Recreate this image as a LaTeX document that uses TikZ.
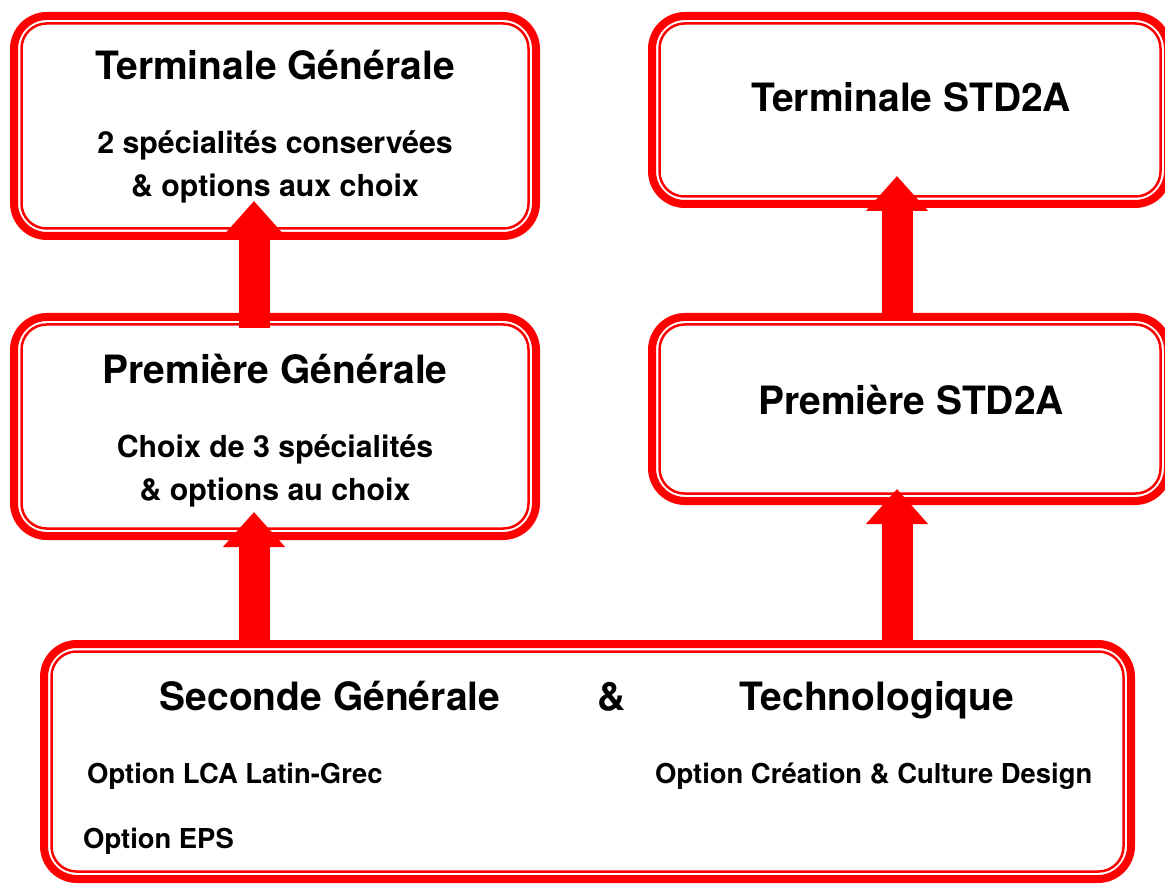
\documentclass[tikz,border=0pt]{standalone}
\usepackage{fontspec}
\setmainfont{TeX Gyre Heros}
\usetikzlibrary{arrows.meta,calc}
\definecolor{bred}{RGB}{255,0,0}
\begin{document}
\begin{tikzpicture}[x=1pt,y=-1pt,
  box/.style={draw=bred, line width=8pt, rounded corners=33pt, inner sep=0pt},
  innerline/.style={draw=bred, line width=2.5pt, rounded corners=25pt},
  up/.style={draw=bred, line width=31pt, -{Triangle[width=60pt,length=35pt]}},
  head/.style={anchor=base, inner sep=0pt, font=\bfseries\fontsize{39}{42}\selectfont},
  sub/.style={anchor=base, inner sep=0pt, font=\bfseries\fontsize{30.3}{32}\selectfont},
  opt/.style={anchor=base west, inner sep=0pt, font=\bfseries\fontsize{27.4}{29}\selectfont}]
\useasboundingbox (0,0) rectangle (1165,885);

% boxes
\node[box, minimum width=522pt, minimum height=220pt] (tg) at (275,126) {};
\node[box, minimum width=516pt, minimum height=188pt] (ts) at (910,110) {};
\node[box, minimum width=522pt, minimum height=219pt] (pg) at (275,426.5) {};
\node[box, minimum width=516pt, minimum height=184pt] (ps) at (910,409) {};
\node[box, minimum width=1087pt, minimum height=235pt] (sec) at (587.5,761.5) {};
\foreach \n in {tg,ts,pg,ps,sec}
  \draw[innerline] ([xshift=11.5pt,yshift=-11.5pt]\n.north west) rectangle ([xshift=-11.5pt,yshift=11.5pt]\n.south east);

% texts
\node[head] (tgt) at (275,80) {Terminale Générale};
\node[sub] (tg1) at (275,154) {2 spécialités conservées};
\node[sub] (tg2) at (275,197) {\& options aux choix};
\node[head] (tst) at (911,112) {Terminale STD2A};
\node[head] (pgt) at (275,383) {Première Générale};
\node[sub] (pg1) at (275,457) {Choix de 3 spécialités};
\node[sub] (pg2) at (275,500) {\& options au choix};
\node[head] (pst) at (911,414) {Première STD2A};
\node[head] (sct) at (330,710) {Seconde Générale};
\node[head] (amp) at (612,710) {\&};
\node[head] (tec) at (877,710) {Technologique};
\node[opt] (o1) at (87,783) {Option LCA Latin-Grec};
\node[opt] (o2) at (83,848) {Option EPS};
\node[opt] (o3) at (655,783) {Option Création \& Culture Design};

% arrows
\coordinate (a1) at ($(tg.south)+(-21pt,39pt)$);
\coordinate (a2) at ($(ts.south)+(-13pt,32pt)$);
\coordinate (a3) at ($(pg.south)+(-21pt,28pt)$);
\coordinate (a4) at ($(ps.south)+(-13pt,16pt)$);
\draw[up] ($(pg.north -| a1)+(0,-15pt)$) -- (a1);
\draw[up] (ps.north -| a2) -- (a2);
\draw[up] ($(sec.north -| a3)+(0,-3pt)$) -- (a3);
\draw[up] ($(sec.north -| a4)+(0,-3pt)$) -- (a4);
\end{tikzpicture}
\end{document}
